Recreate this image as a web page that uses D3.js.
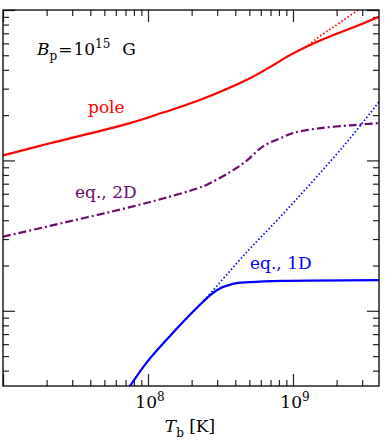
<!DOCTYPE html>
<meta charset="utf-8">
<body style="margin:0">
<svg width="389" height="440"></svg>
<script src="https://cdnjs.cloudflare.com/ajax/libs/d3/7.8.5/d3.min.js"></script>
<script>

// T_b values [K] and curves (arbitrary flux units, log axis)
var poleT    = [1.0e7, 2.11e7, 7.52e7, 1.27e8, 2.18e8, 5.05e8, 6.93e8, 9.53e8, 1.61e9, 2.75e9, 3.92e9];
var poleF    = [10.8, 13.0, 17.7, 20.8, 24.8, 35.2, 41.7, 50.1, 63.8, 78.2, 90.2];

var poleDotT = [6.93e8, 9.53e8, 1.21e9, 1.61e9, 2.11e9, 3.14e9];
var poleDotF = [41.7, 50.1, 56.6, 69.2, 82.5, 108];

var eq2dT    = [1.0e7, 2.11e7, 7.52e7, 1.27e8, 2.18e8, 2.55e8, 3.68e8, 4.82e8, 6.21e8, 8.13e8, 1.0e9, 1.47e9, 2.47e9, 3.92e9];
var eq2dF    = [3.11, 3.67, 4.89, 5.58, 6.50, 6.90, 8.36, 10.0, 12.4, 14.0, 15.2, 16.3, 17.1, 17.7];

var eq1dDotT = [7.43e7, 1.0e8, 1.53e8, 2.29e8, 4.90e8, 8.13e8, 2.21e9, 3.92e9];
var eq1dDotF = [0.311, 0.465, 0.736, 1.10, 2.51, 4.19, 12.3, 24.5];

var eq1dT    = [7.43e7, 1.0e8, 1.53e8, 2.29e8, 2.98e8, 3.85e8, 5.05e8, 8.53e8, 3.92e9];
var eq1dF    = [0.311, 0.465, 0.736, 1.10, 1.37, 1.51, 1.55, 1.58, 1.60];

var svg = d3.select("svg");
var margin = {top: 10, right: 10, bottom: 54, left: 3};
var width = +svg.attr("width") - margin.left - margin.right;
var height = +svg.attr("height") - margin.top - margin.bottom;
var g = svg.append("g").attr("transform", "translate(" + margin.left + "," + margin.top + ")");

var xScale = d3.scaleLog().domain([1e7, 3.92e9]).range([0, width]);
var yScale = d3.scaleLog().domain([Math.sqrt(0.1), 100]).range([height, 0]);

var font = "DejaVu Serif, serif";
var fs = "17px";
var tickCol = "#222";

function isMajor(v) { return Math.abs(Math.log10(v) - Math.round(Math.log10(v))) < 1e-6; }

var xt = xScale.ticks().filter(v => v >= 1e7 && v <= 3.92e9);
var yt = yScale.ticks();

function ticks(axisFn, scale, vals, tr) {
  var maj = vals.filter(isMajor), min = vals.filter(v => !isMajor(v));
  [[maj, 12], [min, 6]].forEach(function(p) {
    var a = g.append("g").attr("transform", tr)
      .call(axisFn(scale).tickValues(p[0]).tickSize(-p[1]).tickFormat(""));
    a.select(".domain").remove();
    a.selectAll("line").attr("stroke", tickCol).attr("stroke-width", 1.2);
  });
}
ticks(d3.axisBottom, xScale, xt, "translate(0," + height + ")");
ticks(d3.axisTop, xScale, xt, "translate(0,0)");
ticks(d3.axisLeft, yScale, yt, "translate(0,0)");
ticks(d3.axisRight, yScale, yt, "translate(" + width + ",0)");

g.append("clipPath").attr("id", "clip")
  .append("rect").attr("width", width).attr("height", height);

var line = d3.line()
  .x(d => xScale(d[0]))
  .y(d => yScale(d[1]))
  .curve(d3.curveCatmullRom.alpha(0.5));

function curve(xs, ys, color, w, dash) {
  g.append("path")
    .attr("clip-path", "url(#clip)")
    .attr("d", line(d3.zip(xs, ys)))
    .attr("fill", "none")
    .attr("stroke", color)
    .attr("stroke-width", w)
    .attr("stroke-dasharray", dash);
}

curve(poleDotT, poleDotF, "#ff0000", 1.8, "1.5,2.2");
curve(poleT, poleF, "#ff0000", 2.2, null);
curve(eq2dT, eq2dF, "#6a0a6a", 2.2, "8,3,2,3");
curve(eq1dDotT, eq1dDotF, "#0000ff", 1.7, "1.5,2.2");
curve(eq1dT, eq1dF, "#0000ff", 2.2, null);

g.append("rect")
  .attr("width", width).attr("height", height)
  .attr("fill", "none").attr("stroke", "#000").attr("stroke-width", 1.3);

// labels
var t = svg.append("text").attr("x", 37).attr("y", 55)
  .style("font-family", font).style("font-size", fs);
t.append("tspan").style("font-style", "italic").text("B");
t.append("tspan").attr("dy", 5).style("font-size", "12px").text("p");
t.append("tspan").attr("dy", -5).attr("dx", 1).text("=");
t.append("tspan").attr("dx", 1).text("10");
t.append("tspan").attr("dy", -7).style("font-size", "12px").text("15");
t.append("tspan").attr("dy", 7).attr("dx", 12).text("G");

svg.append("text").attr("x", 88).attr("y", 113)
  .style("font-family", font).style("font-size", fs).attr("fill", "#ff0000").text("pole");
svg.append("text").attr("x", 75).attr("y", 198)
  .style("font-family", font).style("font-size", fs).attr("fill", "#6a0a6a").text("eq., 2D");
svg.append("text").attr("x", 250).attr("y", 269)
  .style("font-family", font).style("font-size", fs).attr("fill", "#0000ff").text("eq., 1D");

[1e8, 1e9].forEach(function(v) {
  var lt = svg.append("text")
    .attr("x", margin.left + xScale(v) + 2).attr("y", 408)
    .attr("text-anchor", "middle")
    .style("font-family", font).style("font-size", fs);
  lt.append("tspan").text("10");
  lt.append("tspan").attr("dy", -7).style("font-size", "12px").text(Math.round(Math.log10(v)));
});

var xl = svg.append("text").attr("x", 190).attr("y", 432)
  .attr("text-anchor", "middle")
  .style("font-family", font).style("font-size", fs);
xl.append("tspan").style("font-style", "italic").text("T");
xl.append("tspan").attr("dy", 5).style("font-size", "12px").text("b");
xl.append("tspan").attr("dy", -5).text("\u00a0[K]");

</script>
</body>
